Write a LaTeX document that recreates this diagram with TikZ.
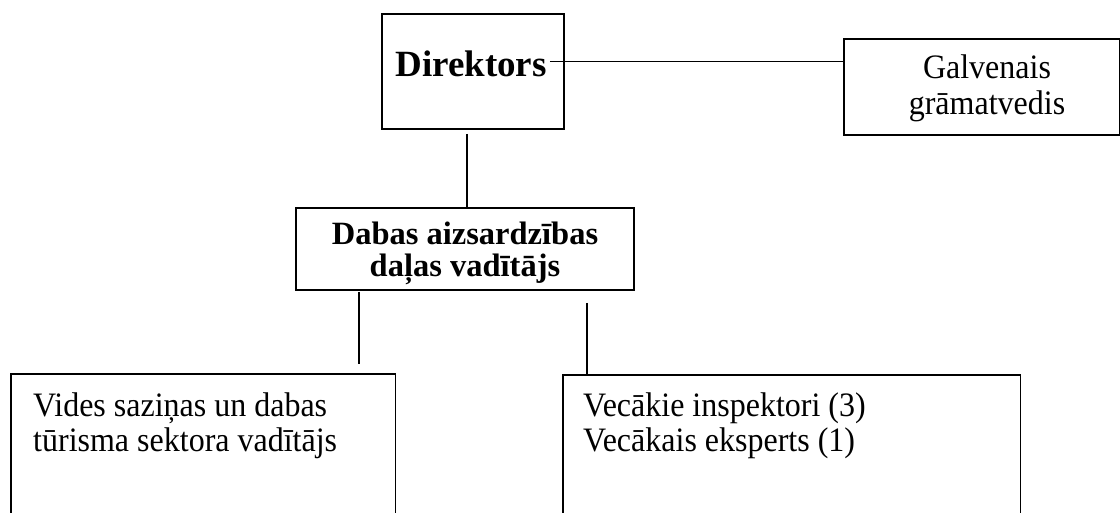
\documentclass[tikz,border=0pt]{standalone}
\usepackage{fontspec}
\usepackage{graphicx}
\setmainfont{Liberation Serif}
\newcommand{\tallish}[1]{\scalebox{1}[1.07]{#1}}
\begin{document}
\begin{tikzpicture}[x=1pt,y=-1pt,
  box/.style={draw, line width=1.6pt, inner sep=0pt, anchor=north west},
  openbox/.style={inner sep=0pt, anchor=north west},
  conn/.style={line width=1.3pt},
  regtext/.style={font=\fontsize{32}{33}\selectfont, inner sep=0pt},
  boldtext/.style={font=\bfseries\fontsize{32.5}{30}\selectfont, inner sep=0pt}]
\useasboundingbox (0,0) rectangle (1120,513);
% boxes
\node[box, minimum width=182pt, minimum height=115pt] (dirbox) at (381,13) {};
\node[box, minimum width=276pt, minimum height=96pt] (galvbox) at (843,38) {};
\node[box, minimum width=338pt, minimum height=82pt] (dabbox) at (295,207) {};
\node[openbox, minimum width=384pt, minimum height=141pt] (lbox) at (11,374) {};
\node[openbox, minimum width=457pt, minimum height=140pt] (rbox) at (563,375) {};
\draw[line width=1.6pt] (lbox.south west) -- (lbox.north west) -- (lbox.north east) -- (lbox.south east);
\draw[line width=1.6pt] (rbox.south west) -- (rbox.north west) -- (rbox.north east) -- (rbox.south east);
% texts
\node[anchor=base, font=\bfseries\fontsize{37}{40}\selectfont, inner ysep=0pt, inner xsep=3pt] (dir) at (471,77) {Direktors};
\node[anchor=base, regtext] (galv) at (987,79) {\tallish{\begin{tabular}[t]{@{}c@{}}Galvenais\\grāmatvedis\end{tabular}}};
\node[anchor=base, boldtext] (dab) at (465,245) {\begin{tabular}[t]{@{}c@{}}Dabas aizsardzības\\daļas vadītājs\end{tabular}};
\node[anchor=base west, regtext] (ltext) at (33,416) {\tallish{\begin{tabular}[t]{@{}l@{}}Vides saziņas un dabas\\tūrisma sektora vadītājs\end{tabular}}};
\node[anchor=base west, regtext] (rtext) at (583,416) {\tallish{\begin{tabular}[t]{@{}l@{}}Vecākie inspektori (3)\\Vecākais eksperts (1)\end{tabular}}};
% connectors
\coordinate (c1) at (467,134);
\coordinate (c2top) at (359,292);
\coordinate (c2bot) at (359,364);
\coordinate (c3) at (587,303);
\draw[conn] ([yshift=3pt]dir.east) -- ([yshift=3pt]dir.east -| galvbox.west);
\draw[conn] (c1) -- (c1 |- dabbox.north);
\draw[conn] (c2top) -- (c2bot);
\draw[conn] (c3) -- (c3 |- rbox.north);
\end{tikzpicture}
\end{document}
